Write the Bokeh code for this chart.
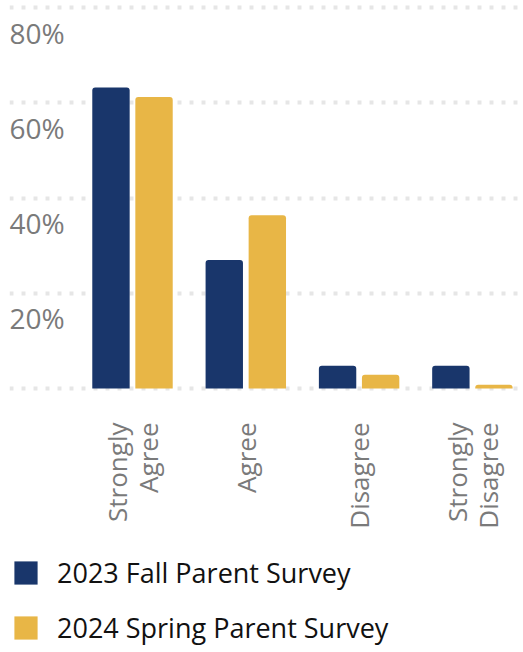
import math
from bokeh.plotting import figure
from bokeh.models import (ColumnDataSource, Range1d, FixedTicker, Legend, LegendItem)
from bokeh.core.properties import value
from bokeh.transform import dodge
from bokeh.embed import file_html
from bokeh.resources import INLINE

categories = ["Strongly Agree", "Agree", "Disagree", "Strongly Disagree"]
tick_labels = ["Strongly\nAgree", "Agree", "Disagree", "Strongly\nDisagree"]
fall_2023 = [63.2, 27.0, 4.8, 4.8]
spring_2024 = [61.2, 36.4, 2.9, 0.8]
series_names = ["2023 Fall Parent Survey", "2024 Spring Parent Survey"]
grid_ticks = [0, 20, 40, 60, 80]
y_label_ticks = [20, 40, 60, 80]
y_label_texts = ["20%", "40%", "60%", "80%"]

NAVY = "#19366b"
GOLD = "#e8b646"
GRAY = "#7a7a7a"

idx = list(range(len(categories)))
src = ColumnDataSource(dict(x=idx, fall=fall_2023, spring=spring_2024,
                            cat=categories, lab=tick_labels, zero=[0] * len(idx)))

x_start, x_end = -1.0856, 3.451
y_start, y_end = -55.43, 81.47
p = figure(width=523, height=652, output_backend="svg", toolbar_location=None,
           x_range=Range1d(x_start, x_end), y_range=Range1d(y_start, y_end),
           x_axis_location=None, y_axis_location=None,
           min_border_left=9, min_border_right=0, min_border_top=0, min_border_bottom=0)
p.outline_line_color = None
p.background_fill_color = "white"
p.border_fill_color = "white"

# grid (only at 0..80)
p.xgrid.visible = False
p.ygrid.ticker = FixedTicker(ticks=grid_ticks)
p.ygrid.grid_line_color = "#e6e6e6"
p.ygrid.grid_line_width = 4
p.ygrid.grid_line_dash = "4 8"

r1 = p.vbar(x=dodge("x", -0.19), top="fall", bottom="zero", width=0.33, source=src,
            fill_color=NAVY, line_color=None, border_radius=(3, 3, 0, 0))
r2 = p.vbar(x=dodge("x", 0.19), top="spring", bottom="zero", width=0.33, source=src,
            fill_color=GOLD, line_color=None, border_radius=(3, 3, 0, 0))

# category labels (rotated, under the baseline)
p.text(x="x", y="zero", text="lab", source=src, angle=math.pi / 2,
       text_align="right", text_baseline="middle", y_offset=34,
       text_font=value("Open Sans"), text_font_size="26px",
       text_line_height=0.87, text_color=GRAY)

# y labels (sit below their gridlines)
ysrc = ColumnDataSource(dict(y=y_label_ticks, text=y_label_texts,
                             x=[x_start] * len(y_label_ticks)))
p.text(x="x", y="y", text="text", source=ysrc, x_offset=0, y_offset=25,
       text_align="left", text_baseline="alphabetic",
       text_font=value("Open Sans"), text_font_size="28px", text_color=GRAY)

legend = Legend(items=[LegendItem(label=series_names[0], renderers=[r1]),
                       LegendItem(label=series_names[1], renderers=[r2])],
                location=(2, 6), orientation="vertical",
                glyph_width=29, glyph_height=29, label_height=29,
                label_text_font="Open Sans", label_text_font_size="27px",
                label_text_color="#111111", label_standoff=17, spacing=18,
                padding=0, margin=0, border_line_color=None, background_fill_alpha=0)
p.add_layout(legend, "center")

open("out.html", "w").write(file_html(p, INLINE))
